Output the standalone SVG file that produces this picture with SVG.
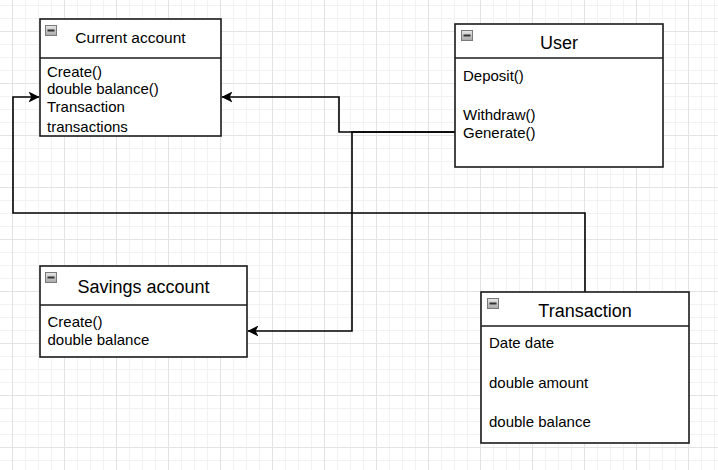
<svg xmlns="http://www.w3.org/2000/svg" width="718" height="470" viewBox="0 0 718 470">
<defs>
<pattern id="minor" x="12" y="5" width="13" height="13" patternUnits="userSpaceOnUse">
<path d="M0 0.5H13M0.5 0V13" fill="none" stroke="#f2f2f2" stroke-width="1"/>
</pattern>
<pattern id="major" x="12" y="31" width="52" height="52" patternUnits="userSpaceOnUse">
<path d="M0 0.5H52M0.5 0V52" fill="none" stroke="#e3e3e3" stroke-width="1"/>
</pattern>
<marker id="arr" viewBox="0 0 10 10" refX="9.5" refY="5" markerWidth="11" markerHeight="11" markerUnits="userSpaceOnUse" orient="auto">
<path d="M0 0L10 5L0 10L2.5 5Z" fill="#000"/>
</marker>
<linearGradient id="ig" x1="0" y1="0" x2="0" y2="1">
<stop offset="0" stop-color="#e8e8e8"/>
<stop offset="1" stop-color="#a8a8a8"/>
</linearGradient>
</defs>
<style>
.box{fill:#fff;stroke:#1a1a1a;stroke-width:1.6}
.sep{stroke:#1a1a1a;stroke-width:1.6}
.t{font-family:"Liberation Sans",Arial,sans-serif;fill:#000;font-size:15px}
.h{font-family:"Liberation Sans",Arial,sans-serif;fill:#000;font-size:18px;text-anchor:middle}
.ico{fill:url(#ig);stroke:#7a7a7a;stroke-width:1}
.icm{stroke:#333;stroke-width:2}
.c{fill:none;stroke:#000;stroke-width:1.6}
</style>
<rect width="718" height="470" fill="#fff"/>
<rect width="718" height="470" fill="url(#minor)"/>
<rect width="718" height="470" fill="url(#major)"/>

<g id="connectors">
<path class="c" d="M455 132H339V97H222" marker-end="url(#arr)"/>
<path class="c" d="M455 132H352V331H248" marker-end="url(#arr)"/>
<path class="c" d="M585 292V213H13V97H39" marker-end="url(#arr)"/>
</g>

<g id="current-account">
<rect class="box" x="40" y="19" width="181" height="117"/>
<line class="sep" x1="40" y1="58" x2="221" y2="58"/>
<rect class="ico" x="45.5" y="25.5" width="11" height="10"/>
<line class="icm" x1="47.5" y1="30.5" x2="54.5" y2="30.5"/>
<text class="h" x="130.5" y="43" style="font-size:15.5px">Current account</text>
<text class="t" x="47" y="76.5">Create()</text>
<text class="t" x="47" y="94">double balance()</text>
<text class="t" x="47" y="112">Transaction</text>
<text class="t" x="47" y="132">transactions</text>
</g>

<g id="user">
<rect class="box" x="455" y="24" width="208" height="143"/>
<line class="sep" x1="455" y1="58" x2="663" y2="58"/>
<rect class="ico" x="461.5" y="30.5" width="11" height="10"/>
<line class="icm" x1="463.5" y1="35.5" x2="470.5" y2="35.5"/>
<text class="h" x="559" y="49">User</text>
<text class="t" x="463" y="81">Deposit()</text>
<text class="t" x="463" y="120">Withdraw()</text>
<text class="t" x="463" y="138">Generate()</text>
</g>

<g id="savings-account">
<rect class="box" x="40" y="266" width="207" height="91"/>
<line class="sep" x1="40" y1="305" x2="247" y2="305"/>
<rect class="ico" x="45.5" y="272.5" width="11" height="10"/>
<line class="icm" x1="47.5" y1="277.5" x2="54.5" y2="277.5"/>
<text class="h" x="143.5" y="293">Savings account</text>
<text class="t" x="47.5" y="327">Create()</text>
<text class="t" x="47.5" y="345">double balance</text>
</g>

<g id="transaction">
<rect class="box" x="481" y="292" width="208" height="151"/>
<line class="sep" x1="481" y1="326" x2="689" y2="326"/>
<rect class="ico" x="487.5" y="298.5" width="11" height="10"/>
<line class="icm" x1="489.5" y1="303.5" x2="496.5" y2="303.5"/>
<text class="h" x="585" y="316.5">Transaction</text>
<text class="t" x="489" y="348">Date date</text>
<text class="t" x="489" y="387.5">double amount</text>
<text class="t" x="489" y="426.5">double balance</text>
</g>
</svg>
